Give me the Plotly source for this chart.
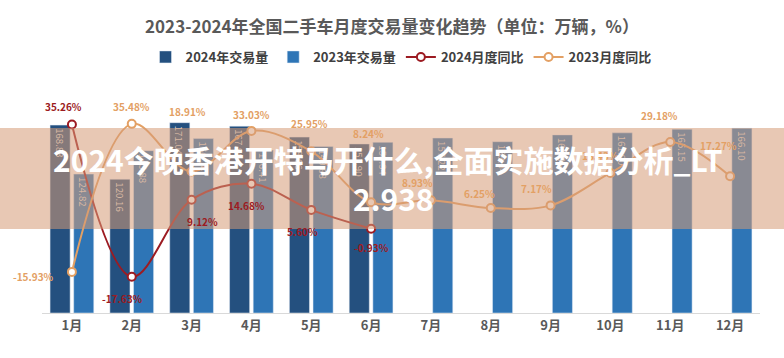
import plotly.graph_objects as go

months = ["1月", "2月", "3月", "4月", "5月", "6月", "7月", "8月", "9月", "10月", "11月", "12月"]
vol_2024 = [168.83, 120.16, 171.04, 167.90, 158.06, 151.90, None, None, None, None, None, None]
vol_2023 = [124.82, 145.88, 156.74, 146.41, 149.68, 153.34, 157.22, 153.94, 160.06, 161.90, 165.15, 166.10]
yoy_2024 = [35.26, -17.63, 9.12, 14.68, 5.60, -0.93]
yoy_2023 = [-15.93, 35.48, 18.91, 33.03, 25.95, 8.24, 8.93, 6.25, 7.17, 18.43, 29.18, 17.27]

# label pixel offsets (styling only)
off_2024 = [(-8, 18), (-9, -22), (11, -22), (-5, -22), (-9, -22), (0, -19)]
off_2023 = [(-38, -5), (0, 17), (-4, 60), (0, 16), (-2, 28), (-3, 69), (-13, 18), (-11, 15),
            (-14, 17), (-10, 17), (-11, 26), (-12, 31)]

FONT = "Noto Sans CJK SC"
C_BAR24 = "#24507f"
C_BAR23 = "#2e75b6"
C_L24 = "#9c1b22"
C_L23 = "#e3a064"

fig = go.Figure()
fig.add_trace(go.Bar(
    name="2024年交易量", x=months, y=vol_2024, marker_color=C_BAR24,
    texttemplate="%{y:.2f}", textposition="inside", insidetextanchor="end",
    textangle=90, textfont=dict(color="#d8d8d8", size=11, family=FONT),
))
fig.add_trace(go.Bar(
    name="2023年交易量", x=months, y=vol_2023, marker_color=C_BAR23,
    texttemplate="%{y:.2f}", textposition="inside", insidetextanchor="end",
    textangle=90, textfont=dict(color="#d8d8d8", size=11, family=FONT),
))
fig.add_trace(go.Scatter(
    name="2024月度同比", x=months[:len(yoy_2024)], y=yoy_2024, yaxis="y2",
    mode="lines+markers", line=dict(color=C_L24, width=2, shape="spline"),
    marker=dict(size=8, color="white", line=dict(color=C_L24, width=2)),
))
fig.add_trace(go.Scatter(
    name="2023月度同比", x=months, y=yoy_2023, yaxis="y2",
    mode="lines+markers", line=dict(color=C_L23, width=2, shape="spline"),
    marker=dict(size=8, color="white", line=dict(color=C_L23, width=2)),
))

annotations = []
for m, v, (dx, dy) in zip(months, yoy_2024, off_2024):
    annotations.append(dict(x=m, y=v, xref="x", yref="y2", text=f"{v:.2f}%", showarrow=False,
                            xshift=dx, yshift=dy, xanchor="center", yanchor="middle",
                            font=dict(color=C_L24, size=10, family=FONT, weight="bold")))
for m, v, (dx, dy) in zip(months, yoy_2023, off_2023):
    annotations.append(dict(x=m, y=v, xref="x", yref="y2", text=f"{v:.2f}%", showarrow=False,
                            xshift=dx, yshift=dy, xanchor="center", yanchor="middle",
                            font=dict(color=C_L23, size=10, family=FONT, weight="bold")))

# watermark overlay
annotations.append(dict(x=0.482, y=0.725, xref="paper", yref="paper", showarrow=False,
                        xanchor="center", yanchor="middle",
                        text="2024今晚香港开特马开什么,全面实施数据分析_LT",
                        font=dict(color="white", size=30, family=FONT, weight="bold")))
annotations.append(dict(x=0.489, y=0.54, xref="paper", yref="paper", showarrow=False,
                        xanchor="center", yanchor="middle",
                        text="2.938",
                        font=dict(color="white", size=30, family=FONT, weight="bold")))

fig.update_layout(
    width=784, height=358,
    margin=dict(l=42, r=24, t=100, b=45),
    paper_bgcolor="white", plot_bgcolor="white",
    font=dict(family=FONT, color="#595959"),
    title=dict(text="2023-2024年全国二手车月度交易量变化趋势（单位：万辆，%）",
               x=0.5, xanchor="center", y=0.9246, yanchor="middle",
               font=dict(size=17, color="#595959", family=FONT, weight="bold")),
    legend=dict(orientation="h", x=0.5, xanchor="center", y=1.202, yanchor="middle",
                font=dict(size=13, color="#404040", family=FONT, weight="bold"),
                itemwidth=30, traceorder="normal"),
    barmode="group", bargap=0.21, bargroupgap=0.15,
    xaxis=dict(range=[-0.5, 11.5], autorange=False,
               showline=True, linecolor="#d9d9d9", linewidth=1, ticks="",
               tickfont=dict(size=13, color="#595959", family=FONT, weight="bold"),
               showgrid=False),
    yaxis=dict(range=[0, 191.4], visible=False, showgrid=False),
    yaxis2=dict(range=[-30.2, 43.76], overlaying="y", visible=False, showgrid=False),
    showlegend=True,
    annotations=annotations,
    shapes=[dict(type="rect", xref="paper", yref="paper", x0=-0.07, x1=1.05,
                 y0=0.394, y1=0.8685, fillcolor="rgba(213,155,119,0.55)",
                 line=dict(width=0), layer="above")],
)

fig.write_html("out.html", config={"displayModeBar": False},
               post_script="document.body.style.margin='0';document.body.style.overflow='hidden';")
